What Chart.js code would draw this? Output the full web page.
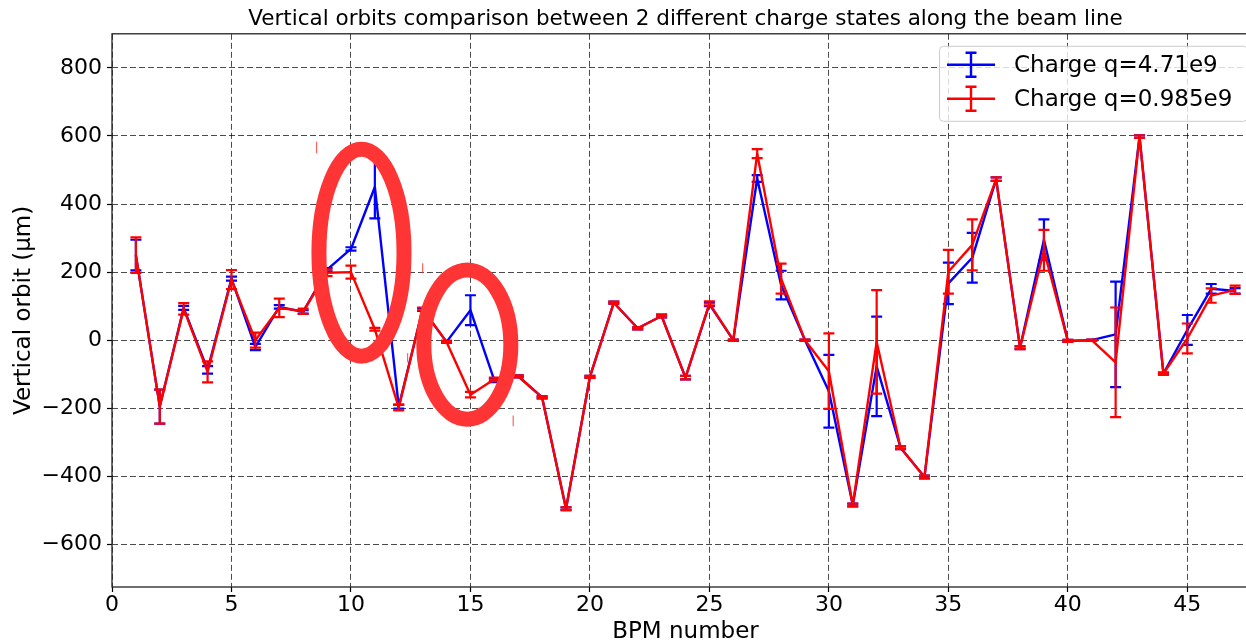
<!DOCTYPE html>
<html>
<head>
<meta charset="utf-8">
<script src="https://cdn.jsdelivr.net/npm/chart.js@4.4.0/dist/chart.umd.min.js"></script>
<style>
  html, body { margin: 0; padding: 0; background: #fff; overflow: hidden; }
  #wrap { width: 1246px; height: 641px; overflow: hidden; position: relative; }
  canvas { display: block; }
</style>
</head>
<body>
<div id="wrap"><canvas id="orbits" width="1262" height="641"></canvas></div>
<script>
const bpm = [1,2,3,4,5,6,7,8,9,10,11,12,13,14,15,16,17,18,19,20,21,22,23,24,25,26,27,28,29,30,31,32,33,34,35,36,37,38,39,40,41,42,43,44,45,46,47];

// charge q = 4.71e9 (blue)
const orbitHigh = [250,-195,95,-87,181,-20,98,83,207,268,450,-195,90,-5,88,-118,-106,-168,-495,-108,110,35,71,-110,105,0,475,162,0,-150,-484,-77,-316,-402,167,242,473,-22,295,-2,0,17,598,-98,30,151,145];
const errHigh   = [45,50,6,11,6,9,5,5,5,5,92,6,4,3,44,5,3,3,4,3,3,3,4,5,5,2,10,42,2,107,4,146,4,4,61,73,5,4,60,3,2,155,4,3,44,14,8];

// charge q = 0.985e9 (red)
const orbitLow = [250,-195,92,-93,178,0,95,85,198,200,32,-198,92,-5,-160,-115,-106,-168,-495,-108,110,35,71,-110,108,0,548,181,0,-91,-484,-5,-316,-402,201,280,473,-22,264,-2,0,-65,598,-98,5,131,148];
const errLow    = [52,50,17,31,28,22,27,8,10,19,4,8,4,3,8,5,3,3,4,3,3,3,4,5,6,2,13,44,2,111,4,152,4,4,64,75,5,4,60,3,2,161,4,3,44,21,12];

const seriesNames = ["Charge q=4.71e9", "Charge q=0.985e9"];
const seriesColors = ["#0000ff", "#ff0000"];

const xTicks = [0,5,10,15,20,25,30,35,40,45];
const yTicks = [-600,-400,-200,0,200,400,600,800];

// hand-drawn highlight ellipses: [x center, y center, x radius, y radius] in data units
const highlights = [[10.44, 257, 1.78, 304], [14.87, -13, 1.82, 219]];
// small stray pen marks: [x, y from, y to]
const strayMarks = [[8.56, 583, 549], [13.0, 226, 197], [16.79, -221, -253], [12.37, -38, -65]];

function toPoints(ys) {
  return bpm.map((b, i) => ({x: b, y: ys[i]}));
}

function fmt(v) {
  return v < 0 ? "\u2212" + Math.abs(v) : String(v);
}

const errorBars = {
  id: "errorBars",
  afterDatasetDraw(chart, args) {
    const ds = chart.data.datasets[args.index];
    const xs = chart.scales.x, ys = chart.scales.y;
    const ctx = chart.ctx;
    ctx.save();
    ctx.strokeStyle = ds.borderColor;
    ctx.lineWidth = 2.2;
    ds.data.forEach((p, i) => {
      const e = ds.err[i];
      const px = xs.getPixelForValue(p.x);
      const top = ys.getPixelForValue(p.y + e);
      const bot = ys.getPixelForValue(p.y - e);
      ctx.beginPath();
      ctx.moveTo(px, top); ctx.lineTo(px, bot);
      ctx.moveTo(px - 5.5, top); ctx.lineTo(px + 5.5, top);
      ctx.moveTo(px - 5.5, bot); ctx.lineTo(px + 5.5, bot);
      ctx.stroke();
    });
    ctx.restore();
  }
};

const extras = {
  id: "extras",
  afterDraw(chart) {
    const ctx = chart.ctx;
    const xs = chart.scales.x, ys = chart.scales.y;
    const a = chart.chartArea;

    // highlight ellipses
    ctx.save();
    ctx.strokeStyle = "#ff3535";
    ctx.lineWidth = 15;
    highlights.forEach((h) => {
      const cx = xs.getPixelForValue(h[0]);
      const cy = ys.getPixelForValue(h[1]);
      const rx = xs.getPixelForValue(h[0] + h[2]) - cx;
      const ry = cy - ys.getPixelForValue(h[1] + h[3]);
      ctx.beginPath();
      ctx.ellipse(cx, cy, rx, ry, 0, 0, Math.PI * 2);
      ctx.stroke();
    });
    ctx.strokeStyle = "rgba(255,60,60,0.8)";
    ctx.lineWidth = 1.2;
    strayMarks.forEach((m) => {
      const px = xs.getPixelForValue(m[0]);
      ctx.beginPath();
      ctx.moveTo(px, ys.getPixelForValue(m[1]));
      ctx.lineTo(px, ys.getPixelForValue(m[2]));
      ctx.stroke();
    });
    ctx.restore();

    // frame
    ctx.save();
    ctx.strokeStyle = "#222";
    ctx.lineWidth = 1.3;
    ctx.strokeRect(a.left, a.top, a.right - a.left, a.bottom - a.top);
    ctx.restore();

    // legend
    const boxR = a.right - 12, boxT = a.top + 12, boxL = 939, boxB = boxT + 75;
    ctx.save();
    ctx.fillStyle = "rgba(255,255,255,0.8)";
    ctx.strokeStyle = "#cccccc";
    ctx.lineWidth = 1;
    ctx.beginPath();
    ctx.roundRect(boxL + 0.5, boxT + 0.5, boxR - boxL, boxB - boxT, 4);
    ctx.fill();
    ctx.stroke();
    ctx.font = "23px 'DejaVu Sans'";
    ctx.textBaseline = "middle";
    ctx.fillStyle = "#000";
    seriesNames.forEach((name, i) => {
      const y = boxT + 19 + i * 34;
      ctx.strokeStyle = seriesColors[i];
      ctx.lineWidth = 2.4;
      ctx.beginPath();
      ctx.moveTo(boxL + 8, y); ctx.lineTo(boxL + 56, y);
      ctx.moveTo(boxL + 32, y - 12); ctx.lineTo(boxL + 32, y + 12);
      ctx.moveTo(boxL + 26.5, y - 12); ctx.lineTo(boxL + 37.5, y - 12);
      ctx.moveTo(boxL + 26.5, y + 12); ctx.lineTo(boxL + 37.5, y + 12);
      ctx.stroke();
      ctx.fillText(name, boxL + 75, y + 1);
    });
    ctx.restore();
  }
};

new Chart(document.getElementById("orbits"), {
  type: "line",
  data: {
    datasets: [
      {
        label: seriesNames[1],
        data: toPoints(orbitLow),
        err: errLow,
        borderColor: seriesColors[1],
        order: 0,
      },
      {
        label: seriesNames[0],
        data: toPoints(orbitHigh),
        err: errHigh,
        borderColor: seriesColors[0],
        order: 1,
      },
    ],
  },
  options: {
    responsive: false,
    animation: false,
    devicePixelRatio: 1,
    layout: { padding: { left: 0, right: 3, top: 0, bottom: 0 } },
    elements: {
      line: { borderWidth: 2.4, tension: 0, fill: false, borderJoinStyle: "round" },
      point: { radius: 0, hoverRadius: 0 },
    },
    plugins: {
      legend: { display: false },
      tooltip: { enabled: false },
      title: {
        display: true,
        fullSize: false,
        text: "Vertical orbits comparison between 2 different charge states along the beam line",
        color: "#000",
        font: { family: "DejaVu Sans", size: 21.5, weight: "normal" },
        padding: { top: 7, bottom: 1 },
      },
    },
    scales: {
      x: {
        type: "linear",
        min: 0,
        max: 48,
        afterFit: (s) => { s.height = 54; },
        afterBuildTicks: (s) => { s.ticks = xTicks.map((v) => ({value: v})); },
        ticks: {
          autoSkip: false,
          maxRotation: 0,
          padding: 0,
          color: "#000",
          font: { family: "DejaVu Sans", size: 22 },
        },
        grid: { color: "rgba(0,0,0,0.7)", lineWidth: 1, tickLength: 5, tickColor: "#000", tickWidth: 1.2 },
        border: { display: false, dash: [6, 3] },
        title: {
          display: true,
          text: "BPM number",
          color: "#000",
          font: { family: "DejaVu Sans", size: 23, lineHeight: 0.8 },
          padding: { top: 0, bottom: 0 },
        },
      },
      y: {
        min: -725,
        max: 900,
        afterFit: (s) => { s.width = 112; },
        afterBuildTicks: (s) => { s.ticks = yTicks.map((v) => ({value: v})); },
        ticks: {
          autoSkip: false,
          padding: 5,
          color: "#000",
          font: { family: "DejaVu Sans", size: 22 },
          callback: (v) => fmt(v),
        },
        grid: { color: "rgba(0,0,0,0.7)", lineWidth: 1, tickLength: 5, tickColor: "#000", tickWidth: 1.2 },
        border: { display: false, dash: [6, 3] },
        title: {
          display: true,
          text: "Vertical orbit (\u03bcm)",
          color: "#000",
          font: { family: "DejaVu Sans", size: 23 },
          padding: { top: 10, bottom: 0 },
        },
      },
    },
  },
  plugins: [errorBars, extras],
});
</script>
</body>
</html>
